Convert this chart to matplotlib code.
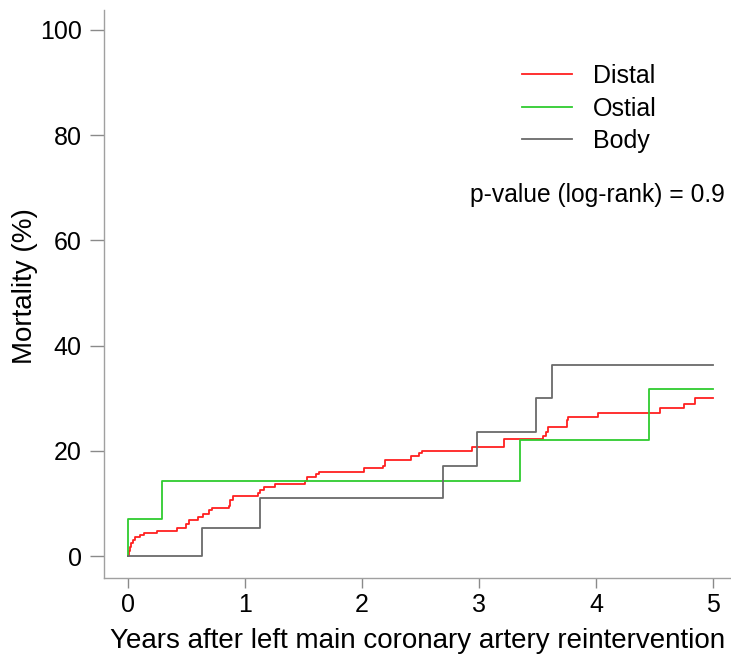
import matplotlib
matplotlib.use("Agg")
import matplotlib.pyplot as plt

plt.rcParams["font.family"] = ["Liberation Sans", "DejaVu Sans"]

# Kaplan-Meier cumulative mortality (%), step "post"
distal_t = [0.0, 0.005, 0.017, 0.03, 0.045, 0.06, 0.10, 0.14, 0.245, 0.42,
            0.50, 0.52, 0.60, 0.64, 0.69, 0.72, 0.86, 0.87, 0.90, 1.11,
            1.13, 1.16, 1.26, 1.51, 1.53, 1.61, 1.63, 2.02, 2.18, 2.20,
            2.42, 2.49, 2.51, 2.94, 3.21, 3.55, 3.57, 3.59, 3.75, 3.76,
            4.02, 4.55, 4.75, 4.85, 5.0]
distal_y = [0.0, 1.0, 1.8, 2.5, 3.0, 3.6, 4.0, 4.4, 4.8, 5.3,
            6.1, 6.8, 7.4, 8.0, 8.7, 9.2, 9.6, 10.6, 11.4, 11.9,
            12.5, 13.2, 13.7, 14.3, 15.1, 15.5, 16.0, 16.7, 17.1, 18.3,
            19.0, 19.5, 20.0, 20.8, 22.2, 22.8, 23.6, 24.5, 25.9, 26.4,
            27.2, 28.1, 28.9, 30.0, 30.0]

ostial_t = [0.0, 0.003, 0.293, 3.35, 4.456, 5.0]
ostial_y = [0.0, 7.1, 14.2, 22.0, 31.8, 31.8]

body_t = [0.0, 0.63, 1.128, 2.69, 2.986, 3.49, 3.627, 5.0]
body_y = [0.0, 5.3, 11.1, 17.1, 23.6, 30.1, 36.3, 36.3]

series_names = ["Distal", "Ostial", "Body"]
series_colors = ["#ff2020", "#2fcc2f", "#6a6a6a"]

x_ticks = [0, 1, 2, 3, 4, 5]
y_ticks = [0, 20, 40, 60, 80, 100]

fig = plt.figure(figsize=(7.31, 6.56), dpi=100)
ax = fig.add_axes([104 / 731, 78 / 656, 627 / 731, 568 / 656])

curves = [(distal_t, distal_y), (ostial_t, ostial_y), (body_t, body_y)]
for (t, y), name, col in zip(curves, series_names, series_colors):
    ax.step(t, y, where="post", color=col, lw=1.3, label=name)

ax.set_xlim(-0.205, 5.154)
ax.set_ylim(-4.18, 103.8)
ax.set_xticks(x_ticks)
ax.set_yticks(y_ticks)
ax.tick_params(axis="both", direction="out", width=1.0,
               color="#8a8a8a", labelsize=18)
ax.tick_params(axis="y", length=10, pad=6)
ax.tick_params(axis="x", length=7, pad=4)

for side in ("top", "right"):
    ax.spines[side].set_visible(False)
for side in ("left", "bottom"):
    ax.spines[side].set_color("#a0a0a0")
    ax.spines[side].set_linewidth(1.0)

ax.set_xlabel("Years after left main coronary artery reintervention",
              fontsize=20, labelpad=8)
ax.set_ylabel("Mortality (%)", fontsize=20)
ax.yaxis.set_label_coords(-66 / 627, (578 - 286) / 568)

leg = ax.legend(loc="upper left", bbox_to_anchor=(418 / 627, 1 - 54 / 568),
                frameon=False, fontsize=18, handlelength=2.0,
                handletextpad=0.85, labelspacing=0.34, borderaxespad=0,
                borderpad=0)

fig.text(725 / 731, 1 - 195 / 656, "p-value (log-rank) = 0.9", fontsize=17.7,
         ha="right", va="center")

fig.savefig("out.png", dpi=100)
